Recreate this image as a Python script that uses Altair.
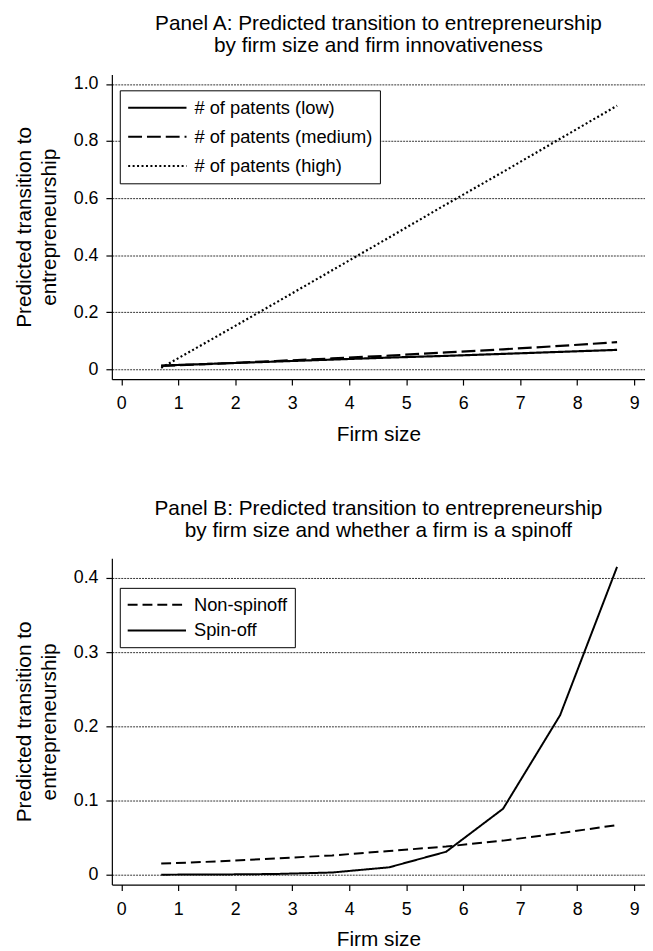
import altair as alt
import pandas as pd

# ---------------- data ----------------
firm_size = [0.7, 1.7, 2.7, 3.7, 4.7, 5.7, 6.7, 7.7, 8.7]

patents_low = [0.013, 0.020, 0.027, 0.034, 0.041, 0.047, 0.054, 0.061, 0.068]
patents_medium = [0.012, 0.020, 0.029, 0.038, 0.048, 0.059, 0.070, 0.082, 0.095]
patents_high = [0.005, 0.118, 0.232, 0.347, 0.462, 0.578, 0.692, 0.808, 0.924]

non_spinoff = [0.015, 0.018, 0.022, 0.026, 0.032, 0.038, 0.046, 0.056, 0.067]
spin_off = [0.0001, 0.0003, 0.001, 0.003, 0.010, 0.031, 0.089, 0.215, 0.415]

series_a = ["# of patents (low)", "# of patents (medium)", "# of patents (high)"]
series_b = ["Non-spinoff", "Spin-off"]

x_ticks = [0, 1, 2, 3, 4, 5, 6, 7, 8, 9]
a_ticks = [0, 0.2, 0.4, 0.6, 0.8, 1.0]
b_ticks = [0, 0.1, 0.2, 0.3, 0.4]

title_a = ["Panel A: Predicted transition to entrepreneurship",
           "by firm size and firm innovativeness"]
title_b = ["Panel B: Predicted transition to entrepreneurship",
           "by firm size and whether a firm is a spinoff"]
y_title = ["Predicted transition to", "entrepreneurship"]
x_title = "Firm size"

# ---------------- tables ----------------
rows_a = []
for name, vals in zip(series_a, [patents_low, patents_medium, patents_high]):
    for i, (x, v) in enumerate(zip(firm_size, vals)):
        rows_a.append({"size": x, "value": v, "series": name, "order": i})
df_a = pd.DataFrame(rows_a)

rows_b = []
for name, vals in zip(series_b, [non_spinoff, spin_off]):
    for i, (x, v) in enumerate(zip(firm_size, vals)):
        rows_b.append({"size": x, "value": v, "series": name, "order": i})
df_b = pd.DataFrame(rows_b)

FONT = "Liberation Sans"
TICK_FS = 18
TITLE_FS = 21
LEG_FS = 18.5
# legend symbol: a horizontal stroke ~59px long, row height stays small
SYM = "M-1,0H5.55"


def x_enc():
    return alt.X(
        "size:Q",
        scale=alt.Scale(domain=[-0.166, 9.19], nice=False, zero=False),
        axis=alt.Axis(values=x_ticks, format="d", title=x_title, grid=False,
                      tickSize=6, labelPadding=10, titlePadding=11,
                      labelFont=FONT, labelFontSize=TICK_FS,
                      titleFont=FONT, titleFontSize=TITLE_FS, titleFontWeight="normal"),
    )


def y_axis(ticks):
    return alt.Axis(values=ticks,
                    labelExpr="datum.value == 0 ? '0' : format(datum.value, '.1f')",
                    title=y_title, grid=True, gridDash=[2, 1], gridColor="black",
                    gridWidth=0.8, gridOpacity=1,
                    tickSize=6, labelPadding=8, titlePadding=14,
                    labelFont=FONT, labelFontSize=TICK_FS,
                    titleFont=FONT, titleFontSize=TITLE_FS, titleFontWeight="normal",
                    titleLineHeight=25)


def legend(x, y, rowpad, pad):
    return alt.Legend(title=None, orient="none", legendX=x, legendY=y,
                      strokeColor="black", fillColor="white", padding=pad,
                      symbolType=SYM, symbolSize=324, symbolStrokeWidth=2,
                      symbolStrokeColor="black", symbolFillColor="transparent",
                      labelFont=FONT, labelFontSize=LEG_FS, labelColor="black",
                      labelLimit=400, rowPadding=rowpad, labelOffset=48)


def title(lines, off, lh):
    return alt.TitleParams(lines, font=FONT, fontSize=TITLE_FS, fontWeight="normal",
                           anchor="middle", offset=off, lineHeight=lh)


chart_a = alt.Chart(df_a).mark_line(color="black", strokeWidth=2.2, strokeCap="butt").encode(
    x=x_enc(),
    y=alt.Y("value:Q",
            scale=alt.Scale(domain=[-0.0346, 1.0333], nice=False, zero=False),
            axis=y_axis(a_ticks)),
    strokeDash=alt.StrokeDash("series:N",
                              scale=alt.Scale(domain=series_a,
                                              range=[[1, 0], [14, 5], [2, 2.5]]),
                              sort=series_a,
                              legend=legend(8, 16, 9.5, 7.5)),
    order="order:Q",
).properties(width=539, height=308, title=title(title_a, 19, 22))

chart_b = alt.Chart(df_b).mark_line(color="black", strokeWidth=2, strokeCap="butt").encode(
    x=x_enc(),
    y=alt.Y("value:Q",
            scale=alt.Scale(domain=[-0.0133, 0.4267], nice=False, zero=False),
            axis=y_axis(b_ticks)),
    strokeDash=alt.StrokeDash("series:N",
                              scale=alt.Scale(domain=series_b,
                                              range=[[10, 5], [1, 0]]),
                              sort=series_b,
                              legend=legend(8, 30, 6, 7)),
    order="order:Q",
).properties(width=539, height=330, title=title(title_b, 17, 23))

chart = alt.vconcat(chart_a, chart_b, spacing=54).resolve_scale(
    strokeDash="independent", y="independent"
).resolve_legend(strokeDash="independent").configure_view(stroke=None).configure_axis(
    domainColor="black", tickColor="black", labelColor="black", titleColor="black",
    domainWidth=1.2, tickWidth=1.2
).configure_title(color="black").properties(
    background="white",
    padding={"left": 5, "top": 0, "right": 0, "bottom": 5},
)

chart.save("out.html", embed_options={"renderer": "svg", "actions": False})
